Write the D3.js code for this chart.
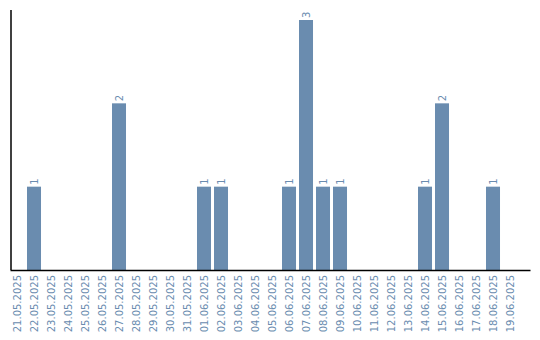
<!DOCTYPE html>
<html>
<head>
<meta charset="utf-8">
<script src="https://cdn.jsdelivr.net/npm/d3@7"></script>
<style>
  body { margin: 0; background: #fff; }
  text { font-family: "DejaVu Sans", sans-serif; }
</style>
</head>
<body>
<svg id="chart"></svg>
<script>
var dates = ["21.05.2025","22.05.2025","23.05.2025","24.05.2025","25.05.2025","26.05.2025","27.05.2025","28.05.2025","29.05.2025","30.05.2025",
             "31.05.2025","01.06.2025","02.06.2025","03.06.2025","04.06.2025","05.06.2025","06.06.2025","07.06.2025","08.06.2025","09.06.2025",
             "10.06.2025","11.06.2025","12.06.2025","13.06.2025","14.06.2025","15.06.2025","16.06.2025","17.06.2025","18.06.2025","19.06.2025"]
var counts = [0,1,0,0,0,0,2,0,0,0,
              0,1,1,0,0,0,1,3,1,1,
              0,0,0,0,1,2,0,0,1,0]

var dimensions = {
    width: 540,
    height: 340,
    margin: { top: 20, bottom: 70, right: 10, left: 10 }
}
var color = "#6a8caf"

var svg = d3.select("#chart")
        .attr("width", dimensions.width)
        .attr("height", dimensions.height)

var data = dates.map((d, i) => ({date: d, value: counts[i]}))

var xScale = d3.scaleBand()
                .domain(dates)
                .range([dimensions.margin.left, dimensions.width - dimensions.margin.right])
                .paddingInner(0.176)
                .paddingOuter(0.382)
                .align(0)

var yScale = d3.scaleLinear()
                .domain([0, d3.max(counts)])
                .range([dimensions.height - dimensions.margin.bottom, dimensions.margin.top])

var bars = svg.selectAll("rect")
            .data(data.filter(d => d.value > 0))
            .enter()
            .append("rect")
            .attr("x", d => xScale(d.date))
            .attr("y", d => yScale(d.value))
            .attr("width", xScale.bandwidth())
            .attr("height", d => yScale(0) - yScale(d.value))
            .attr("fill", color)

var labels = svg.selectAll(".val")
            .data(data.filter(d => d.value > 0))
            .enter()
            .append("text")
            .attr("class", "val")
            .attr("transform", d => "translate(" + (xScale(d.date) + xScale.bandwidth() / 2 + 3.5) + "," + (yScale(d.value) - 2) + ") rotate(-90)")
            .attr("fill", color)
            .attr("font-size", 10)
            .text(d => d.value)

var xAxis = svg.append("g")
               .attr("transform", "translate(0," + yScale(0) + ")")
               .call(d3.axisBottom(xScale).tickSize(0).tickSizeOuter(0))
xAxis.select(".domain").attr("stroke", "#000").attr("stroke-width", 1.5)
xAxis.selectAll("text")
     .attr("fill", color)
     .attr("font-size", 10)
     .attr("font-family", "DejaVu Sans, sans-serif")
     .style("text-anchor", "end")
     .attr("transform", "rotate(-90)")
     .attr("x", -5)
     .attr("y", 0)
     .attr("dy", "0.35em")

svg.append("line")
   .attr("x1", dimensions.margin.left + 1)
   .attr("x2", dimensions.margin.left + 1)
   .attr("y1", 10)
   .attr("y2", yScale(0))
   .attr("stroke", "#000")
   .attr("stroke-width", 1.5)
</script>
</body>
</html>
